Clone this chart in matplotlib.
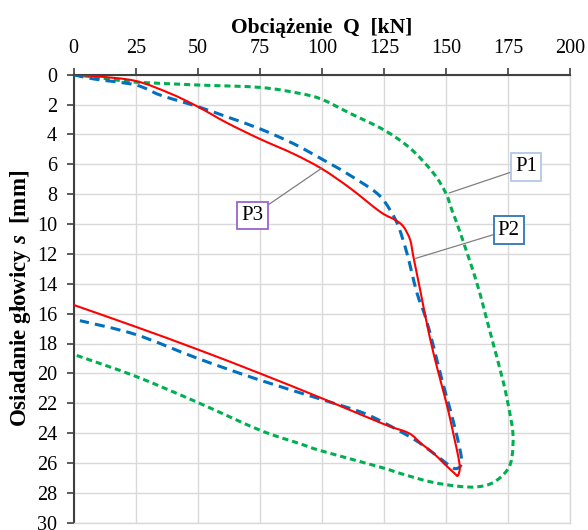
import matplotlib.pyplot as plt
import numpy as np
from matplotlib.path import Path
from matplotlib.patches import PathPatch

plt.rcParams['font.family'] = ['Liberation Serif', 'DejaVu Serif']
plt.rcParams['mathtext.fontset'] = 'custom'
plt.rcParams['mathtext.it'] = 'Liberation Serif:italic:bold'
plt.rcParams['mathtext.rm'] = 'Liberation Serif:bold'

# P1 - green dotted
p1_q = [0, 10, 20, 25, 50, 75, 91, 100, 111.4, 125, 135.6, 145, 150, 152.4,
        155.8, 162.5, 167.9, 173, 175.2, 177, 176.6, 174.6, 169.2, 162.5,
        154.4, 143.7, 131.6, 124, 100, 91, 75, 50, 25, 0]
p1_s = [0, 0.2, 0.42, 0.5, 0.69, 0.85, 1.25, 1.65, 2.59, 3.7, 4.93, 6.6, 7.95, 9.06,
        10.6, 13.97, 17.3, 20.5, 22.2, 24.0, 25.6, 26.5, 27.3, 27.6,
        27.55, 27.26, 26.7, 26.3, 25.2, 24.7, 23.8, 21.95, 20.2, 18.73]

# P2 - blue dashed
p2_q = [0, 7.9, 25, 34.8, 50, 61.7, 75, 88.6, 100, 110, 122.2, 127.5, 130.9,
        134.3, 138.3, 141.7, 145, 148.5, 151.5, 154.3, 156.2, 156.0, 154.8, 153,
        150, 144.6, 137, 125, 115.9, 100, 75, 50, 25, 2.5]
p2_s = [0, 0.28, 0.69, 1.36, 2.14, 2.82, 3.62, 4.62, 5.65, 6.6, 7.94, 9.06, 10.18,
        11.96, 14.6, 16.2, 18.2, 20.5, 22.3, 24.1, 25.6, 26.15, 26.35, 26.35,
        26.0, 25.3, 24.4, 23.3, 22.6, 21.75, 20.45, 19.0, 17.4, 16.47]

# P3 - red solid
p3_q = [0, 10, 25, 38.8, 50, 61.7, 75, 88.6, 100, 111.4, 123.5, 129.6, 132.9, 135.6,
        136.9, 139.6, 142.3, 145, 148, 150.8, 153.2, 155, 155.6, 154.8,
        153.5, 149, 145, 140, 135, 125, 100, 75, 50, 25, 0]
p3_s = [0, 0.12, 0.42, 1.25, 2.14, 3.22, 4.3, 5.3, 6.3, 7.6, 9.18, 9.73, 10.18, 11.07,
        12.2, 14.4, 16.65, 18.66, 20.6, 22.4, 24.2, 25.6, 26.35, 26.85,
        26.7, 26.0, 25.35, 24.7, 24.0, 23.4, 21.67, 20.0, 18.4, 16.88, 15.42]

x_ticks = np.arange(0, 201, 25)
y_ticks = np.arange(0, 31, 2)


def smooth_path(xs, ys):
    # Excel-like smoothed line: bezier through the points
    p = np.column_stack([xs, ys]).astype(float)
    n = len(p)
    verts = [p[0]]
    codes = [Path.MOVETO]
    for i in range(n - 1):
        p0 = p[i - 1] if i > 0 else p[i]
        p3 = p[i + 2] if i + 2 < n else p[i + 1]
        c1 = p[i] + (p[i + 1] - p0) / 6
        c2 = p[i + 1] - (p3 - p[i]) / 6
        verts += [c1, c2, p[i + 1]]
        codes += [Path.CURVE4] * 3
    return Path(verts, codes)


fig = plt.figure(figsize=(5.88, 5.30), dpi=100)
ax = fig.add_axes([73.7 / 588, 1 - 522.7 / 530, (570 - 73.7) / 588, (522.7 - 74.7) / 530])

ax.add_patch(PathPatch(smooth_path(p1_q, p1_s), fill=False, ec='#00B050', lw=2.2,
                       linestyle=(0, (2.0, 1.3)), zorder=3))
ax.add_patch(PathPatch(smooth_path(p2_q, p2_s), fill=False, ec='#0070C0', lw=2.2,
                       linestyle=(0, (3.3, 2.0)), zorder=4))
ax.add_patch(PathPatch(smooth_path(p3_q, p3_s), fill=False, ec='#FF0000', lw=1.5,
                       zorder=5))

ax.set_xlim(0, 200)
ax.set_ylim(30, 0)
ax.set_xticks(x_ticks)
ax.set_yticks(y_ticks)
ax.xaxis.tick_top()
ax.xaxis.set_label_position('top')
ax.tick_params(axis='both', labelsize=14.5, direction='out', length=5, width=1.2,
               color='#404040', pad=7)
ax.grid(True, color='#D9D9D9', lw=1)
ax.set_axisbelow(True)
for side in ['top', 'left']:
    ax.spines[side].set_color('#404040')
    ax.spines[side].set_linewidth(1.5)
for side in ['bottom', 'right']:
    ax.spines[side].set_color('#D9D9D9')
    ax.spines[side].set_linewidth(1)

ax.set_xlabel('Obciążenie  Q  [kN]', fontsize=15.5, fontweight='bold', labelpad=4)
ax.set_ylabel('Osiadanie głowicy $s$  [mm]', fontsize=16.5, fontweight='bold', labelpad=3)

labels = [('P1', (151.3, 7.92), (182.4, 6.18), '#B4C7E7'),
          ('P2', (137.8, 12.3), (175.3, 10.4), '#2E75B6'),
          ('P3', (99.7, 6.29), (72.1, 9.43), '#9966CC')]
for name, pt, txt, ec in labels:
    ax.annotate(name, xy=pt, xytext=txt, fontsize=15, ha='center', va='center',
                bbox=dict(boxstyle='square,pad=0.2', fc='white', ec=ec, lw=1.3),
                arrowprops=dict(arrowstyle='-', color='#7F7F7F', lw=0.9,
                                shrinkA=0, shrinkB=0),
                annotation_clip=False, zorder=6)

fig.savefig('out.png', dpi=100)
